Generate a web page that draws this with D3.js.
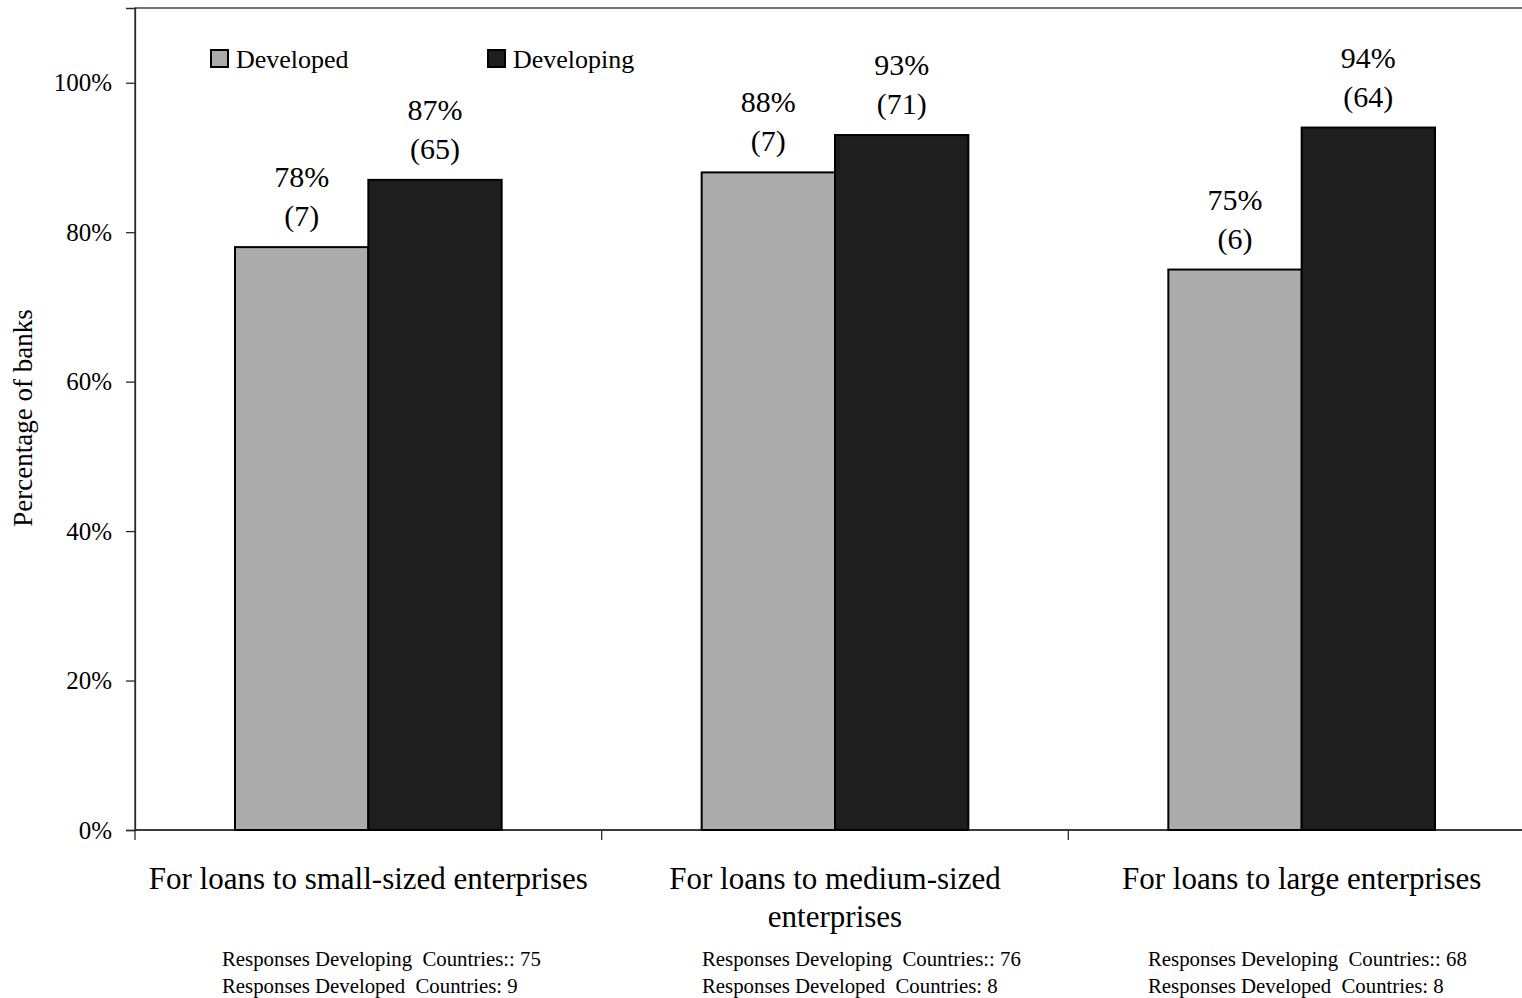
<!DOCTYPE html>
<html>
<head>
<meta charset="utf-8">
<script src="https://cdn.jsdelivr.net/npm/d3@7"></script>
<style>
  html, body { margin: 0; padding: 0; background: #fff; }
  svg { display: block; font-family: "Liberation Serif", "Times New Roman", serif; }
  text { white-space: pre; }
</style>
</head>
<body>
<svg id="chart" width="1522" height="998"></svg>
<script>
// ---- data ----
const categories = [
  "For loans to small-sized enterprises",
  "For loans to medium-sized enterprises",
  "For loans to large enterprises"
];
const categoryLines = [
  ["For loans to small-sized enterprises"],
  ["For loans to medium-sized", "enterprises"],
  ["For loans to large enterprises"]
];
const seriesNames = ["Developed", "Developing"];
const pctDeveloped = [78, 88, 75];
const pctDeveloping = [87, 93, 94];
const countDeveloped = [7, 7, 6];
const countDeveloping = [65, 71, 64];
const responsesDeveloping = [75, 76, 68];
const responsesDeveloped = [9, 8, 8];
const yTicks = [0, 20, 40, 60, 80, 100];

// ---- layout ----
const svg = d3.select("#chart");
const plotLeft = 135, plotRight = 1535, plotTop = 8, plotBottom = 830;
const colors = { Developed: "#ababab", Developing: "#1e1e1e" };
const noteX = [222, 702, 1148];
const axisColor = "#2a2a2a";

const x0 = d3.scaleBand().domain(categories).range([plotLeft, plotRight]).padding(0);
const bw = x0.bandwidth();
const x1 = d3.scaleBand().domain(seriesNames).range([100, bw - 100]).padding(0);
const y = d3.scaleLinear().domain([0, 110]).range([plotBottom, plotTop]);

// plot frame (right edge lies past the page edge)
svg.append("rect")
  .attr("x", plotLeft).attr("y", plotTop)
  .attr("width", plotRight - plotLeft).attr("height", plotBottom - plotTop)
  .attr("fill", "none").attr("stroke", axisColor).attr("stroke-width", 1.3);

// y axis
const yAxis = d3.axisLeft(y).tickValues(yTicks).tickFormat(d => d + "%")
  .tickSize(9).tickPadding(14);
const gy = svg.append("g").attr("transform", `translate(${plotLeft},0)`).call(yAxis);
gy.select(".domain").attr("stroke", axisColor).attr("stroke-width", 1.3);
gy.selectAll(".tick line").attr("stroke", axisColor).attr("stroke-width", 1.3);
gy.selectAll(".tick text")
  .attr("font-family", "Liberation Serif").attr("font-size", 25).attr("fill", "#000");

// y title
svg.append("text")
  .attr("transform", "translate(32,418) rotate(-90)")
  .attr("text-anchor", "middle")
  .attr("font-size", 27)
  .text("Percentage of banks");

// x axis: baseline + category boundary ticks
svg.append("line")
  .attr("x1", plotLeft).attr("x2", plotRight).attr("y1", plotBottom).attr("y2", plotBottom)
  .attr("stroke", axisColor).attr("stroke-width", 1.3);
const boundaries = categories.map(c => x0(c)).concat([x0(categories[categories.length - 1]) + bw]);
svg.append("g").selectAll("line").data(boundaries).join("line")
  .attr("x1", d => d).attr("x2", d => d)
  .attr("y1", plotBottom).attr("y2", plotBottom + 10)
  .attr("stroke", axisColor).attr("stroke-width", 1.3);

// bars
const rows = categories.map((c, i) => ({
  cat: c,
  values: [
    { series: "Developed", pct: pctDeveloped[i], n: countDeveloped[i] },
    { series: "Developing", pct: pctDeveloping[i], n: countDeveloping[i] }
  ]
}));

const groups = svg.append("g").selectAll("g").data(rows).join("g")
  .attr("transform", d => `translate(${x0(d.cat)},0)`);

groups.selectAll("rect").data(d => d.values).join("rect")
  .attr("x", d => x1(d.series))
  .attr("y", d => y(d.pct))
  .attr("width", x1.bandwidth())
  .attr("height", d => y(0) - y(d.pct))
  .attr("fill", d => colors[d.series])
  .attr("stroke", "#000").attr("stroke-width", 2);

// value labels
const lab = groups.selectAll("g.lab").data(d => d.values).join("g").attr("class", "lab");
lab.append("text")
  .attr("x", d => x1(d.series) + x1.bandwidth() / 2)
  .attr("y", d => y(d.pct) - 60)
  .attr("text-anchor", "middle").attr("font-size", 30)
  .text(d => d.pct + "%");
lab.append("text")
  .attr("x", d => x1(d.series) + x1.bandwidth() / 2)
  .attr("y", d => y(d.pct) - 21)
  .attr("text-anchor", "middle").attr("font-size", 30)
  .text(d => "(" + d.n + ")");

// category labels
categories.forEach((c, i) => {
  const t = svg.append("text")
    .attr("text-anchor", "middle").attr("font-size", 31)
    .attr("x", x0(c) + bw / 2).attr("y", 889);
  categoryLines[i].forEach((line, j) => {
    t.append("tspan").attr("x", x0(c) + bw / 2).attr("dy", j === 0 ? 0 : 38).text(line);
  });
});

// response notes
categories.forEach((c, i) => {
  svg.append("text").attr("x", noteX[i]).attr("y", 966).attr("font-size", 20.8)
    .text("Responses Developing  Countries:: " + responsesDeveloping[i]);
  svg.append("text").attr("x", noteX[i]).attr("y", 993).attr("font-size", 20.8)
    .text("Responses Developed  Countries: " + responsesDeveloped[i]);
});

// legend
const legendX = [211, 488];
seriesNames.forEach((s, i) => {
  svg.append("rect").attr("x", legendX[i]).attr("y", 50).attr("width", 17).attr("height", 17)
    .attr("fill", colors[s]).attr("stroke", "#000").attr("stroke-width", 2);
  svg.append("text").attr("x", legendX[i] + 25).attr("y", 68).attr("font-size", 26).text(s);
});
</script>
</body>
</html>
